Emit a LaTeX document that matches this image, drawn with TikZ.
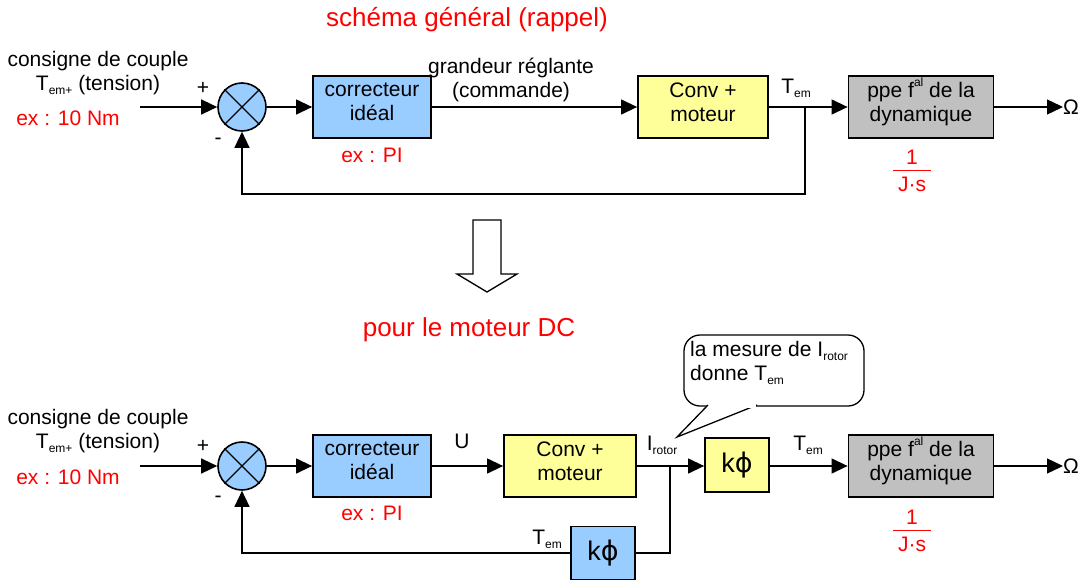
\documentclass[tikz,border=0pt]{standalone}
\usepackage{fontspec}
\setmainfont{Liberation Sans}
\newfontfamily\dejavu{DejaVu Sans}
\usetikzlibrary{arrows.meta}
\newcommand\lo[1]{\raisebox{-0.35ex}{\fontsize{12}{12}\selectfont #1}}
\newcommand\hi[1]{\raisebox{0.95ex}{\fontsize{12}{12}\selectfont #1}}
\definecolor{bblue}{HTML}{99CCFF}
\definecolor{byel}{HTML}{FFFF99}
\definecolor{bgray}{HTML}{C0C0C0}
\definecolor{red}{HTML}{FF0000}
\begin{document}
\begin{tikzpicture}[x=1pt,y=-1pt,
  every node/.style={font=\fontsize{21}{24}\selectfont, inner sep=0pt},
  blk/.style={draw=black, line width=1.8pt, minimum height=62pt},
  sumc/.style={circle, draw=black, line width=1.6pt, fill=bblue, minimum size=48pt},
  arr/.style={line width=1.3pt, -{Triangle[length=16pt,width=15pt]}},
  ln/.style={line width=1.3pt},
  redt/.style={text=red},
  titl/.style={text=red, font=\fontsize{26}{30}\selectfont},
  kp/.style={font=\fontsize{27}{30}\selectfont}]
\useasboundingbox (0,0) rectangle (1087,581);

% ---------- titles ----------
\node[titl] (t1) at (467,20) {schéma général (rappel)};
\node[titl] (t2) at (469,330) {pour le moteur DC};

% ---------- top row ----------
\node[align=center] (cons1) at (98,73) {consigne de couple\\T\lo{em+} (tension)};
\node[redt] (ex1) at (68,118) {ex : 10 Nm};
\coordinate (in1) at (140,107);
\node[sumc] (sum1) at (242,107) {};
\draw[line width=1.4pt] (sum1.north west) -- (sum1.south east) (sum1.north east) -- (sum1.south west);
\node (p1) at (203,88) {+};
\node (m1) at (218,141) {-};
\node[blk, fill=bblue, minimum width=118pt] (corr1) at (372,107) {};
\node[align=center] (corr1t) at (372,102) {correcteur\\idéal};
\node[redt] (pi1) at (372,155) {ex : PI};
\node[align=center] (gr1) at (511,80) {grandeur réglante\\(commande)};
\node[blk, fill=byel, minimum width=130pt] (conv1) at (703,107) {};
\node[align=center] (conv1t) at (703,102) {Conv +\\moteur};
\node (tem1) at (796,88) {T\lo{em}};
\coordinate (j1) at (805,107);
\node[blk, fill=bgray, minimum width=145pt] (dyn1) at (921,107) {};
\node[align=center] (dyn1t) at (921,102) {ppe f\hi{al} de la\\dynamique};
\node[anchor=west] (om1) at (1063,107) {Ω};
\node[redt] (n1) at (912,157) {1};
\node[redt] (d1) at (912,184) {J·s};
\draw[red, line width=1pt] (893,170) -- (931,170);
\coordinate (fb1) at (0,194);

\draw[arr] (in1) -- (sum1);
\draw[arr] (sum1) -- (corr1);
\draw[arr] (corr1) -- (conv1);
\draw[arr] (conv1) -- (dyn1);
\draw[arr] (dyn1.east) -- (om1.west);
\draw[arr] (j1) |- (sum1.south |- fb1) -- (sum1.south);

% ---------- hollow arrow ----------
\draw[line width=1.3pt, fill=white] (473,220) -- (501,220) -- (501,274) -- (517,274)
  -- (487,292) -- (457,274) -- (473,274) -- cycle;

% ---------- bottom row ----------
\node[align=center] (cons2) at (98,431) {consigne de couple\\T\lo{em+} (tension)};
\node[redt] (ex2) at (68,477) {ex : 10 Nm};
\coordinate (in2) at (140,466);
\node[sumc] (sum2) at (242,466) {};
\draw[line width=1.4pt] (sum2.north west) -- (sum2.south east) (sum2.north east) -- (sum2.south west);
\node (p2) at (203,446) {+};
\node (m2) at (218,499) {-};
\node[blk, fill=bblue, minimum width=118pt] (corr2) at (372,466) {};
\node[align=center] (corr2t) at (372,461) {correcteur\\idéal};
\node[redt] (pi2) at (372,513) {ex : PI};
\node (u2) at (462,441) {U};
\node[blk, fill=byel, minimum width=132pt] (conv2) at (570,466) {};
\node[align=center] (conv2t) at (570,461) {Conv +\\moteur};
\node (ir2) at (662,445) {I\lo{rotor}};
\coordinate (j2) at (670,466);
\node[blk, fill=byel, minimum width=64pt, minimum height=54pt, kp] (kf1) at (737,465) {k{\dejavu ϕ}};
\node (tem2) at (808,445) {T\lo{em}};
\node[blk, fill=bgray, minimum width=145pt] (dyn2) at (921,466) {};
\node[align=center] (dyn2t) at (921,461) {ppe f\hi{al} de la\\dynamique};
\node[anchor=west] (om2) at (1063,466) {Ω};
\node[redt] (n2) at (912,517) {1};
\node[redt] (d2) at (912,544) {J·s};
\draw[red, line width=1pt] (893,530) -- (931,530);
\node[blk, fill=bblue, minimum width=64pt, minimum height=53pt, kp] (kf2) at (603,553) {k{\dejavu ϕ}};
\node (tem3) at (547,539) {T\lo{em}};

\draw[arr] (in2) -- (sum2);
\draw[arr] (sum2) -- (corr2);
\draw[arr] (corr2) -- (conv2);
\draw[arr] (conv2.east |- j2) -- (kf1.west |- j2);
\draw[arr] (kf1.east |- j2) -- (dyn2.west |- j2);
\draw[arr] (dyn2.east |- j2) -- (om2.west);
\draw[ln] (j2) |- (kf2.east);
\draw[arr] (kf2.west) -| (sum2.south);

% ---------- callout ----------
\draw[line width=1.3pt, fill=white, rounded corners=16pt] (684,335) rectangle (864,406);
\draw[line width=1.3pt, fill=white] (708,405) -- (677,437) -- (757,405);
\fill[white] (709,402) rectangle (756,408);
\node[anchor=north west, align=left] (cl) at (690,341) {la mesure de I\lo{rotor}\\donne T\lo{em}};
\end{tikzpicture}
\end{document}
